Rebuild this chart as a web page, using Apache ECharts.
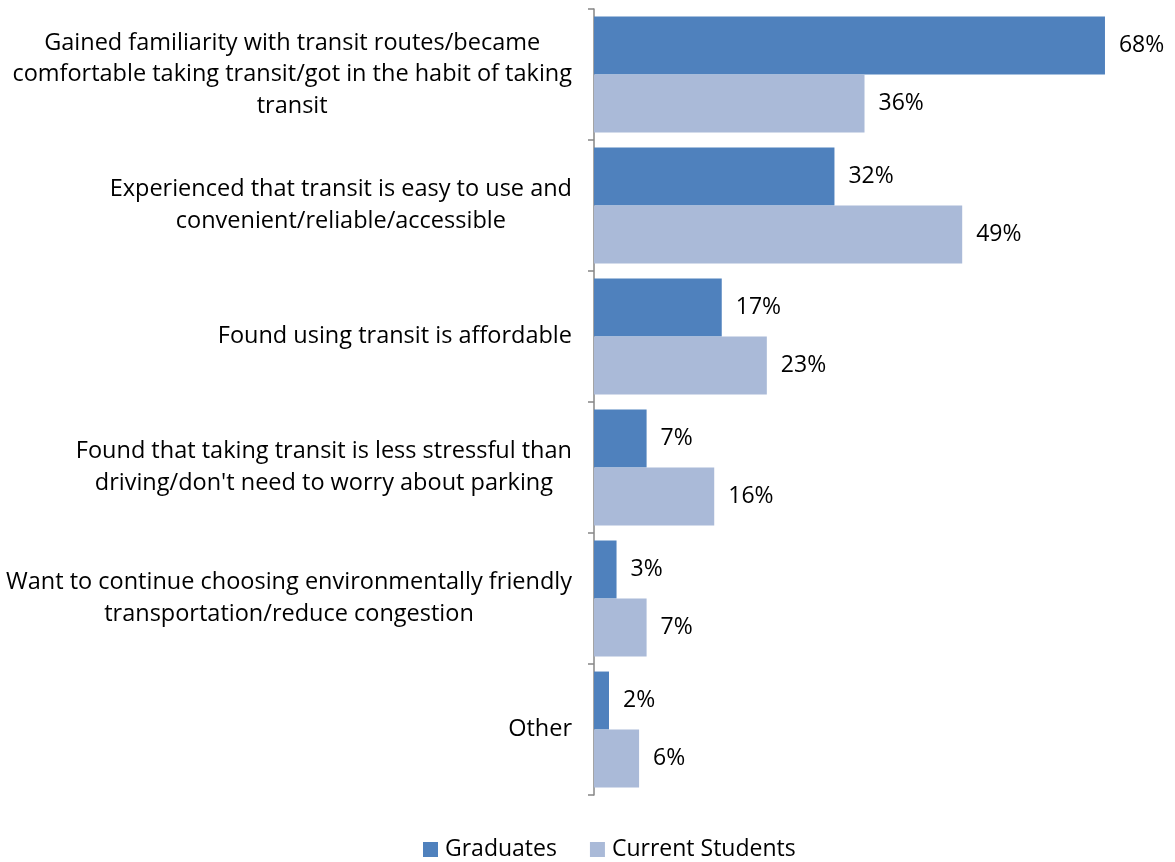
<!DOCTYPE html>
<html>
<head>
<meta charset="utf-8">
<script src="https://cdn.jsdelivr.net/npm/echarts@6/dist/echarts.min.js"></script>
<style>
  html, body { margin: 0; padding: 0; background: #fff; }
  #chart { width: 1175px; height: 862px; }
</style>
</head>
<body>
<div id="chart"></div>
<script>
// Reasons for continuing to use transit, by respondent group (percent)
const categories = [
  'Gained familiarity with transit routes/became\ncomfortable taking transit/got in the habit of taking\ntransit',
  'Experienced that transit is easy to use and\nconvenient/reliable/accessible',
  'Found using transit is affordable',
  'Found that taking transit is less stressful than\ndriving/don\'t need to worry about parking',
  'Want to continue choosing environmentally friendly\ntransportation/reduce congestion',
  'Other'
];
const graduates = [68, 32, 17, 7, 3, 2];
const currentStudents = [36, 49, 23, 16, 7, 6];
const seriesNames = ['Graduates', 'Current Students'];

const FONT = 'Open Sans';
const chart = echarts.init(document.getElementById('chart'), null, { renderer: 'canvas' });

const valueLabel = {
  show: true,
  position: 'right',
  distance: 14,
  formatter: p => p.value + '%',
  color: '#000',
  fontFamily: FONT,
  fontSize: 23
};

chart.setOption({
  animation: false,
  textStyle: { fontFamily: FONT },
  grid: { left: 594, top: 9, width: 526, height: 786, containLabel: false },
  legend: {
    top: 833,
    left: 418,
    itemWidth: 15,
    itemHeight: 15,
    itemGap: 33,
    icon: 'rect',
    textStyle: { fontFamily: FONT, fontSize: 23, color: '#000', padding: [0, 0, 0, 2] },
    data: seriesNames
  },
  xAxis: {
    type: 'value',
    min: 0,
    max: 70,
    show: false
  },
  yAxis: {
    type: 'category',
    inverse: true,
    data: categories,
    axisLine: { show: true, lineStyle: { color: '#868686', width: 1.5 } },
    axisTick: { show: true, length: 6, lineStyle: { color: '#868686', width: 1.5 } },
    axisLabel: {
      margin: 22,
      align: 'right',
      // each line is centred inside the right-aligned label block
      formatter: v => v.split('\n').map(s => '{c|' + s + '}').join('\n'),
      rich: {
        c: {
          align: 'center',
          color: '#000',
          fontFamily: FONT,
          fontSize: 23.5,
          lineHeight: 31.5
        }
      }
    },
    splitLine: { show: false }
  },
  series: [
    {
      name: seriesNames[0],
      type: 'bar',
      data: graduates,
      itemStyle: { color: '#4F81BD' },
      barGap: '0%',
      barCategoryGap: '11.5%',
      label: valueLabel
    },
    {
      name: seriesNames[1],
      type: 'bar',
      data: currentStudents,
      itemStyle: { color: '#AABAD8' },
      barGap: '0%',
      barCategoryGap: '11.5%',
      label: valueLabel
    }
  ]
});
</script>
</body>
</html>
